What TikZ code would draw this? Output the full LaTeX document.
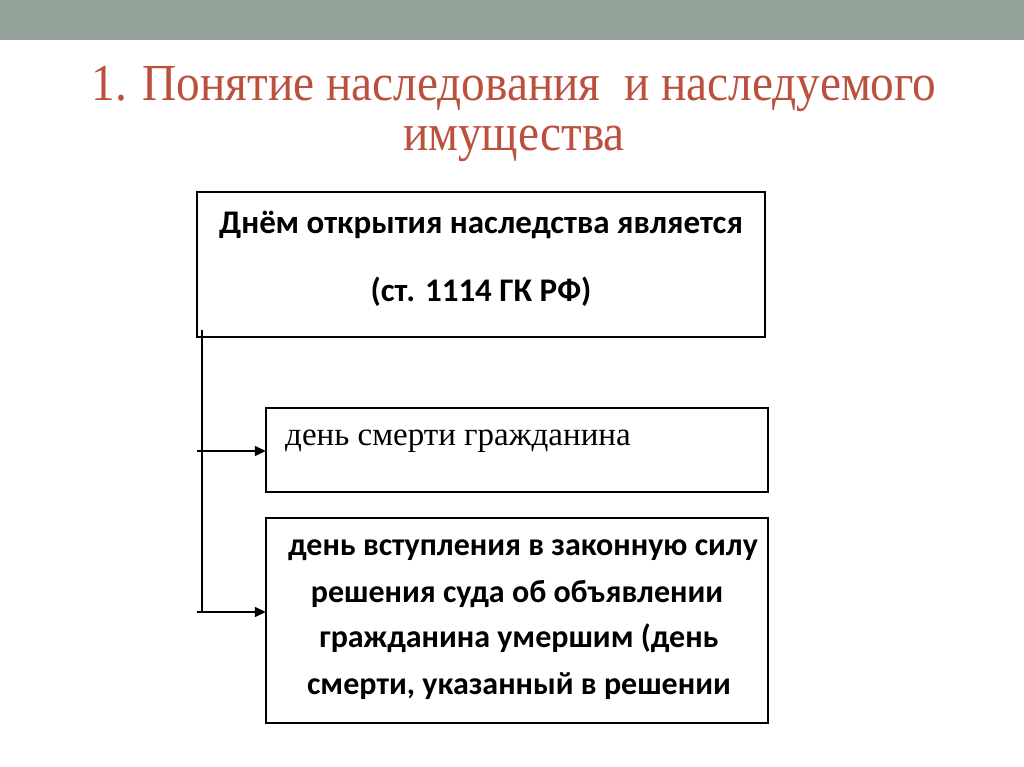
\documentclass[tikz,border=0pt]{standalone}
\usepackage{fontspec}
\setmainfont{Liberation Serif}
\newfontfamily\carl{Carlito}
\usetikzlibrary{arrows.meta}
\definecolor{band}{RGB}{147,163,153}
\definecolor{titlered}{RGB}{188,80,62}
\newcommand{\ttltext}[1]{\scalebox{0.91}[1]{\fontsize{52}{56}\selectfont #1}}
\tikzset{
  box/.style={draw=black, line width=1.3pt},
  conn/.style={line width=1.4pt, -{Triangle[length=11pt,width=10pt]}},
  ttl/.style={text=titlered, inner sep=0pt},
  boxtxt/.style={font=\carl\bfseries\fontsize{32}{36}\selectfont, inner sep=0pt},
}
\begin{document}
\begin{tikzpicture}[x=1pt,y=-1pt]
\useasboundingbox (0,0) rectangle (1024,767);
\fill[white] (0,0) rectangle (1024,767);
\fill[band] (0,0) rectangle (1024,40);
% title
\node[ttl] (t1) at (514,89) {\ttltext{1. Понятие наследования\ \ и наследуемого}};
\node[ttl] (t2) at (514,144) {\ttltext{имущества}};
% boxes
\draw[box] (197,192) rectangle (765,337);
\node (b1) at (481,264.5) [minimum width=568pt, minimum height=145pt] {};
\node[boxtxt, font=\carl\bfseries\fontsize{33}{36}\selectfont] (b1a) at (481,225) {Днём открытия наследства является};
\node[boxtxt, font=\carl\bfseries\fontsize{33}{36}\selectfont] (b1b) at (481,292) {(ст. 1114 ГК РФ)};
\draw[box] (266,408) rectangle (768,492);
\node (b2) at (517,450) [minimum width=502pt, minimum height=84pt, inner sep=0pt] {};
\node[font=\fontsize{33}{36}\selectfont, anchor=west, inner sep=0pt] (b2a) at (285,441) {день смерти гражданина};
\draw[box] (266,518) rectangle (768,723);
\node (b3) at (517,620.5) [minimum width=502pt, minimum height=205pt, inner sep=0pt] {};
\node[boxtxt] at (523,550) {день вступления в законную силу};
\node[boxtxt] at (517,594) {решения суда об объявлении};
\node[boxtxt] at (519,638) {гражданина умершим (день};
\node[boxtxt] at (519,686) {смерти, указанный в решении};
% connectors
\coordinate (top) at (202,330);
\coordinate (j1) at (197,451);
\coordinate (j2) at (197,612);
\draw[line width=1.4pt] (top) -- (202,612);
\draw[conn] (j1) -- (b2.west |- j1);
\draw[conn] (j2) -- (b3.west |- j2);
\end{tikzpicture}
\end{document}
